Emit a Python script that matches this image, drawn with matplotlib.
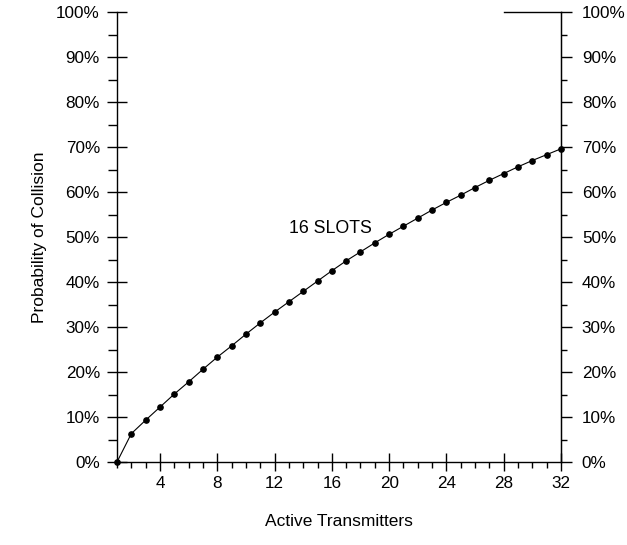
import matplotlib
matplotlib.use("Agg")
import matplotlib.pyplot as plt
from matplotlib.ticker import MultipleLocator, FuncFormatter

plt.rcParams['font.family'] = ['Liberation Sans', 'DejaVu Sans']
plt.rcParams['font.size'] = 12

# Data
transmitters = list(range(1, 33))
collision_pct = [0, 6.3, 9.3, 12.2, 15.1, 17.8, 20.6, 23.3, 25.8, 28.4,
                 30.9, 33.3, 35.6, 37.9, 40.2, 42.5, 44.7, 46.7, 48.7, 50.6,
                 52.4, 54.2, 56.0, 57.7, 59.3, 61.0, 62.6, 64.1, 65.6, 67.0,
                 68.3, 69.6]
series_label = '16 SLOTS'
x_ticks = [4, 8, 12, 16, 20, 24, 28, 32]

fig = plt.figure(figsize=(6.27, 5.45), dpi=100)
ax = fig.add_axes([117 / 627, 1 - 462 / 545, 444 / 627, 450 / 545])

ax.plot(transmitters, collision_pct, color='black', linewidth=0.8,
        marker='o', markersize=3.8, clip_on=False, zorder=3)
ax.text(15.9, 51.8, series_label, ha='center', va='center', fontsize=12.8)

ax.set_xlim(1, 32)
ax.set_ylim(0, 100)

pct = FuncFormatter(lambda v, p: f"{v:.0f}%")

# spines
ax.spines['top'].set_bounds(28, 32)
for s in ax.spines.values():
    s.set_linewidth(1.0)

ax.set_xticks(x_ticks)
ax.xaxis.set_minor_locator(MultipleLocator(1))
ax.yaxis.set_major_locator(MultipleLocator(10))
ax.yaxis.set_minor_locator(MultipleLocator(5))
ax.yaxis.set_major_formatter(pct)

ax.tick_params(axis='x', which='major', direction='inout', length=12.5,
               width=1, pad=4, labelsize=12.3)
ax.tick_params(axis='x', which='minor', direction='out', length=4.5, width=1)
ax.tick_params(axis='y', which='major', direction='inout', length=14.5,
               width=1, pad=5, labelsize=12.3)
ax.tick_params(axis='y', which='minor', direction='out', length=6.5, width=1)

ax2 = ax.twinx()
ax2.set_ylim(0, 100)
ax2.yaxis.set_major_locator(MultipleLocator(10))
ax2.yaxis.set_minor_locator(MultipleLocator(5))
ax2.yaxis.set_major_formatter(pct)
ax2.tick_params(axis='y', which='major', direction='out', length=8,
                width=1, pad=7, labelsize=12.3)
ax2.tick_params(axis='y', which='minor', direction='out', length=4, width=1)
for name in ['top', 'left', 'bottom']:
    ax2.spines[name].set_visible(False)

ax.set_xlabel('Active Transmitters', fontsize=12.5)
ax.xaxis.set_label_coords(0.5, -(521 - 462) / 450)
ax.xaxis.label.set_va('center')
ax.set_ylabel('Probability of Collision', fontsize=12.5)
ax.yaxis.set_label_coords((40 - 117) / 444, 0.5)
ax.yaxis.label.set_va('center')

fig.savefig('out.png', dpi=100)
